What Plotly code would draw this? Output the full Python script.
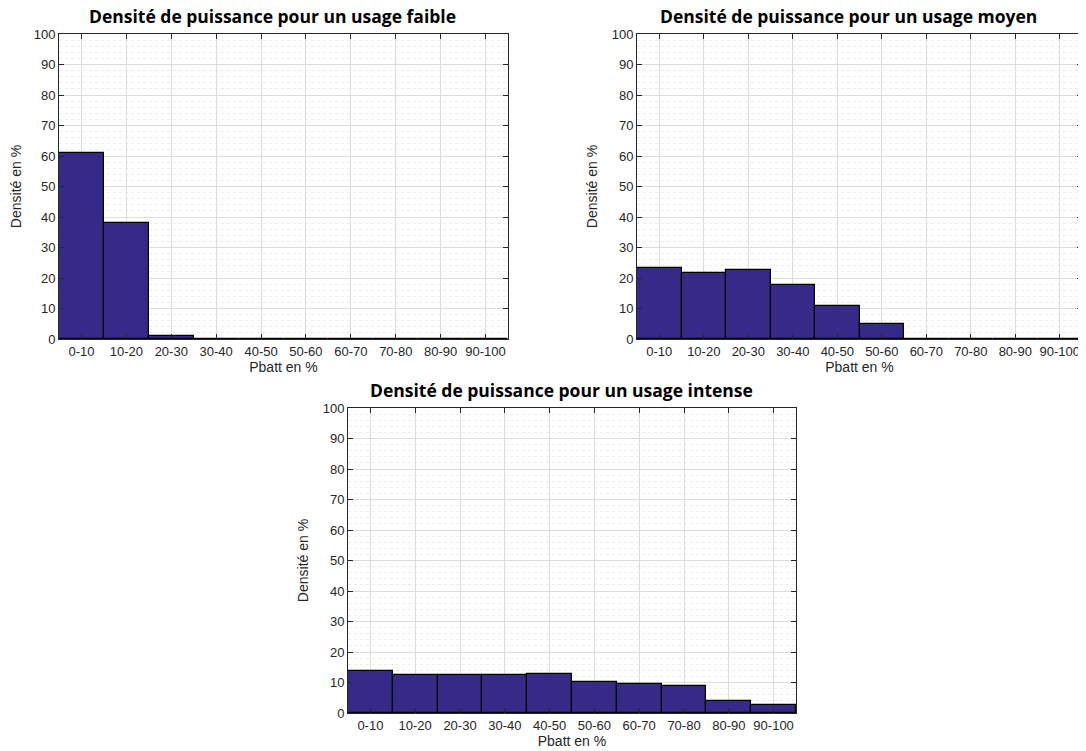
import plotly.graph_objects as go

# Tranches de puissance batterie
categories = ["0-10", "10-20", "20-30", "30-40", "40-50",
              "50-60", "60-70", "70-80", "80-90", "90-100"]

# Densité en % pour chaque usage
faible = [61.0, 38.0, 1.0, 0, 0, 0, 0, 0, 0, 0]
moyen = [23.2, 21.5, 22.6, 17.6, 10.8, 4.9, 0, 0, 0, 0]
intense = [13.8, 12.3, 12.6, 12.6, 12.9, 10.3, 9.6, 8.8, 3.9, 2.7]

titles = ["Densité de puissance pour un usage faible",
          "Densité de puissance pour un usage moyen",
          "Densité de puissance pour un usage intense"]

# the page body has an 8px margin, so the figure is drawn 8px in
OFF = 8
W, H = 1086 - OFF, 751 - OFF
# plot areas in window pixels: (left, right, top, bottom)
boxes = [(59, 508, 34, 339), (637, 1082, 34, 339), (348, 796, 408, 713)]

bar_color = "#352A87"
axis_col = "#262626"
tick_font = dict(family="Liberation Sans, Arial", size=13, color=axis_col)
label_font = dict(family="Liberation Sans, Arial", size=14, color=axis_col)

fig = go.Figure()
layout = dict(
    width=W, height=H,
    margin=dict(l=0, r=0, t=0, b=0),
    paper_bgcolor="white", plot_bgcolor="white",
    showlegend=False, bargap=0,
    annotations=[],
)

for i, (vals, title, box) in enumerate(zip([faible, moyen, intense], titles, boxes)):
    n = "" if i == 0 else str(i + 1)
    left, right, top, bottom = [v - OFF for v in box]
    fig.add_trace(go.Bar(
        x=categories, y=vals,
        xaxis="x" + n, yaxis="y" + n,
        marker=dict(color=bar_color, line=dict(color="black", width=1.2)),
        width=1,
    ))
    layout["xaxis" + n] = dict(
        domain=[left / W, right / W],
        anchor="y" + n,
        type="category",
        range=[-0.5, 9.5],
        automargin=False,
        showline=True, linecolor=axis_col, linewidth=1, mirror="ticks",
        ticks="inside", ticklen=5, tickcolor=axis_col,
        showgrid=True, gridcolor="#DCDCDC", gridwidth=1,
        tickfont=tick_font,
        title=dict(text="Pbatt en %", font=label_font, standoff=2),
        zeroline=False,
    )
    layout["yaxis" + n] = dict(
        domain=[(H - bottom) / H, (H - top) / H],
        anchor="x" + n,
        range=[0, 100], dtick=10,
        automargin=False,
        showline=True, linecolor=axis_col, linewidth=1, mirror="ticks",
        ticks="inside", ticklen=5, tickcolor=axis_col,
        showgrid=True, gridcolor="#DCDCDC", gridwidth=1,
        minor=dict(dtick=2, showgrid=True, gridcolor="#ECECEC", griddash="dot", gridwidth=1),
        tickfont=tick_font,
        title=dict(text="Densité en %", font=label_font, standoff=10),
        zeroline=False,
    )
    layout["annotations"].append(dict(
        text="<b>" + title + "</b>",
        x=(left + right) / 2 / W - 11 / W, y=(H - top + 4) / H,
        xref="paper", yref="paper", xanchor="center", yanchor="bottom",
        showarrow=False,
        font=dict(family="Open Sans", size=17.5, color="black"),
    ))

fig.update_layout(**layout)
fig.write_html("out.html")
